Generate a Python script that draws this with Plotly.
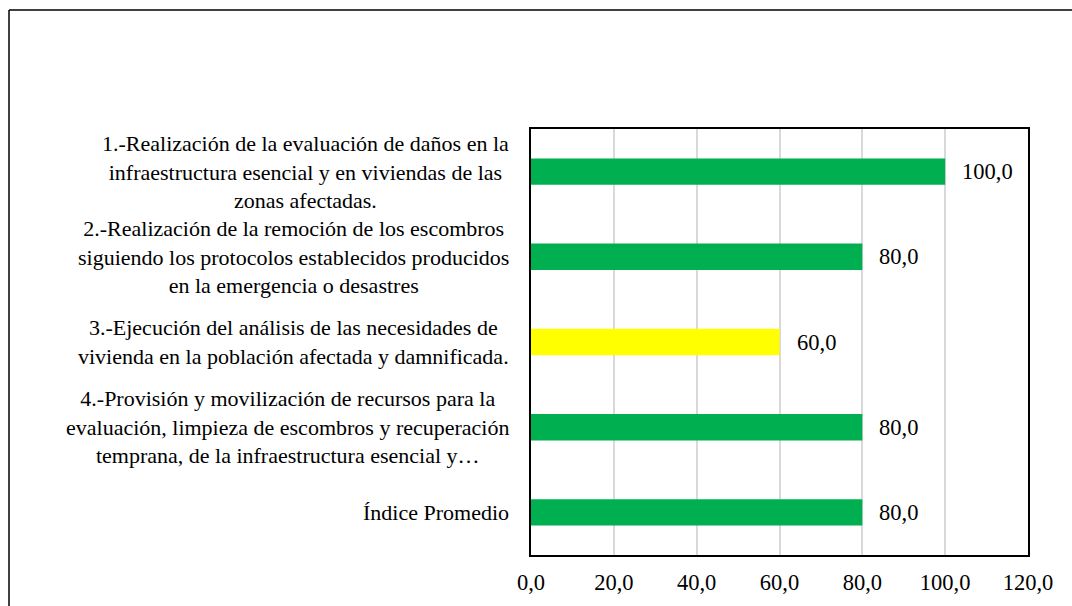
import plotly.graph_objects as go

categories = [
    "1.-Realización de la evaluación de daños en la<br>infraestructura esencial y en viviendas de las<br>zonas afectadas.",
    "2.-Realización de la remoción de los escombros<br>siguiendo los protocolos establecidos producidos<br>en la emergencia o desastres",
    "3.-Ejecución del análisis de las necesidades de<br>vivienda en la población afectada y damnificada.",
    "4.-Provisión y movilización de recursos para la<br>evaluación, limpieza de escombros y recuperación<br>temprana, de la infraestructura esencial y…",
    "Índice Promedio",
]
values = [100.0, 80.0, 60.0, 80.0, 80.0]
bar_colors = ["#00B050", "#00B050", "#FFFF00", "#00B050", "#00B050"]
tick_vals = [0, 20, 40, 60, 80, 100, 120]

FONT = "Liberation Serif, Times New Roman, serif"
ypos = list(range(len(categories)))

fig = go.Figure()
fig.add_trace(go.Bar(
    x=values, y=ypos, orientation="h",
    marker=dict(color=bar_colors, line=dict(width=0)),
    width=0.31, hoverinfo="skip",
))

annotations = []
for yi, cat, v in zip(ypos, categories, values):
    annotations.append(dict(
        x=0, y=yi, xref="x", yref="y", text=cat, showarrow=False,
        xanchor="right", yanchor="middle", align="center", xshift=-20,
        font=dict(family=FONT, size=22, color="black"),
    ))
    annotations.append(dict(
        x=v, y=yi, xref="x", yref="y", text=f"{v:.1f}".replace(".", ","),
        showarrow=False, xanchor="left", yanchor="middle", xshift=15,
        font=dict(family=FONT, size=22.5, color="black"),
    ))

L, R, T, B = 531, 44, 129, 51
W, H = 1072, 606
pw, ph = W - L - R, H - T - B
bx = (9 - L) / pw
by = (H - B - 10) / ph

fig.update_layout(
    width=W, height=H,
    margin=dict(l=L, r=R, t=T, b=B, autoexpand=False),
    paper_bgcolor="white", plot_bgcolor="white",
    separators=",.",
    showlegend=False,
    font=dict(family=FONT, size=22, color="black"),
    annotations=annotations,
    shapes=[
        dict(type="line", xref="paper", yref="paper", x0=bx, x1=bx, y0=-0.3, y1=by,
             line=dict(color="black", width=1.5)),
        dict(type="line", xref="paper", yref="paper", x0=bx, x1=1.2, y0=by, y1=by,
             line=dict(color="black", width=1.5)),
    ],
    xaxis=dict(
        range=[0, 120], tickvals=tick_vals, tickformat=".1f",
        showgrid=True, gridcolor="#D9D9D9", gridwidth=1.5,
        showline=True, mirror=True, linecolor="black", linewidth=2,
        zeroline=False, ticks="", ticklabelstandoff=6, automargin=False,
        tickfont=dict(family=FONT, size=22.5, color="black"), fixedrange=True,
    ),
    yaxis=dict(
        range=[4.5, -0.5], showticklabels=False, showgrid=False,
        showline=True, mirror=True, linecolor="black", linewidth=2,
        zeroline=False, ticks="", fixedrange=True, automargin=False,
    ),
)

fig.write_html(
    "out.html",
    config={"displayModeBar": False},
    post_script="document.body.style.margin='0';document.body.style.overflow='hidden';",
)
